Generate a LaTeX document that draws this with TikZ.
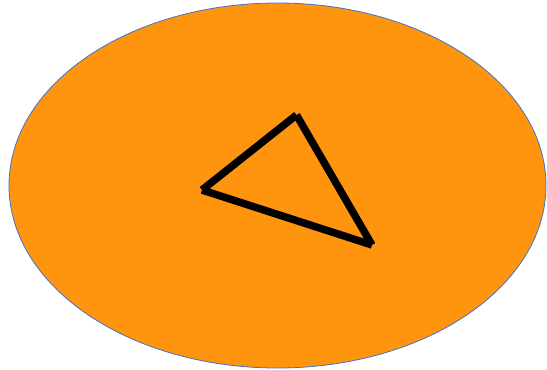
\documentclass[tikz,border=0pt]{standalone}
\definecolor{fillorange}{HTML}{FF940F}
\definecolor{edgeblue}{HTML}{4472C4}
\begin{document}
\begin{tikzpicture}[x=1pt,y=-1pt,
  blob/.style={draw=edgeblue,line width=0.8pt,fill=fillorange},
  side/.style={draw=black,line width=7.5pt,line cap=butt}]
\useasboundingbox (0,0) rectangle (547,370);
\path[blob] (277.5,185.5) ellipse [x radius=268.5, y radius=182.5];
\coordinate (top) at (296.5,115);
\coordinate (left) at (202,190);
\coordinate (right) at (372,245);
\draw[side] (left) -- (top);
\draw[side] (top) -- (right);
\draw[side] (right) -- (left);
\end{tikzpicture}
\end{document}
